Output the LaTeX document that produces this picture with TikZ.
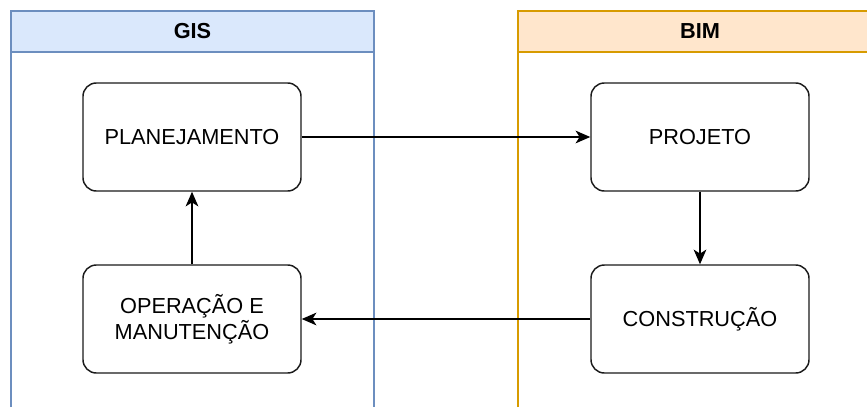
\documentclass[tikz,border=0pt]{standalone}
\usepackage{fontspec}
\setmainfont{Liberation Sans}
\usetikzlibrary{arrows.meta}
\definecolor{gisfill}{HTML}{DAE8FC}
\definecolor{gisline}{HTML}{6C8EBF}
\definecolor{bimfill}{HTML}{FFE6CC}
\definecolor{bimline}{HTML}{D79B00}
\definecolor{boxline}{HTML}{1A1A1A}
\tikzset{
  stagebox/.style={draw=boxline, line width=1.1pt, rounded corners=10pt, fill=white,
    minimum width=163.5pt, minimum height=81pt, align=center, inner sep=0pt,
    font=\fontsize{16.3}{19.5}\selectfont},
  headtext/.style={font=\fontsize{16.3}{19.5}\selectfont\bfseries, inner sep=0pt},
  flow/.style={line width=1.1pt, draw=black, -{Stealth[length=11pt,width=9.5pt,inset=3pt]}},
}
\begin{document}
\begin{tikzpicture}[x=0.75pt,y=-0.75pt]
\useasboundingbox (0,0) rectangle (867,407);
% GIS lane
\fill[gisfill] (11,11) rectangle (374,52);
\draw[gisline, line width=1.1pt] (11,407) -- (11,11) -- (374,11) -- (374,407);
\draw[gisline, line width=1.1pt] (11,52) -- (374,52);
\node[headtext] (gish) at (192.5,31.5) {GIS};
% BIM lane
\fill[bimfill] (518,11) rectangle (870,52);
\draw[bimline, line width=1.1pt] (518,407) -- (518,11) -- (870,11);
\draw[bimline, line width=1.1pt] (518,52) -- (870,52);
\node[headtext] (bimh) at (700,31.5) {BIM};
% stages
\node[stagebox] (plan) at (192,137) {PLANEJAMENTO};
\node[stagebox] (proj) at (700,137) {PROJETO};
\node[stagebox] (cons) at (700,319) {CONSTRUÇÃO};
\node[stagebox] (oper) at (192,319) {OPERAÇÃO E\\MANUTENÇÃO};
% flows
\draw[flow] (plan.east) -- (proj.west);
\draw[flow] (proj.south) -- (cons.north);
\draw[flow] (cons.west) -- (oper.east);
\draw[flow] (oper.north) -- (plan.south);
\end{tikzpicture}
\end{document}
